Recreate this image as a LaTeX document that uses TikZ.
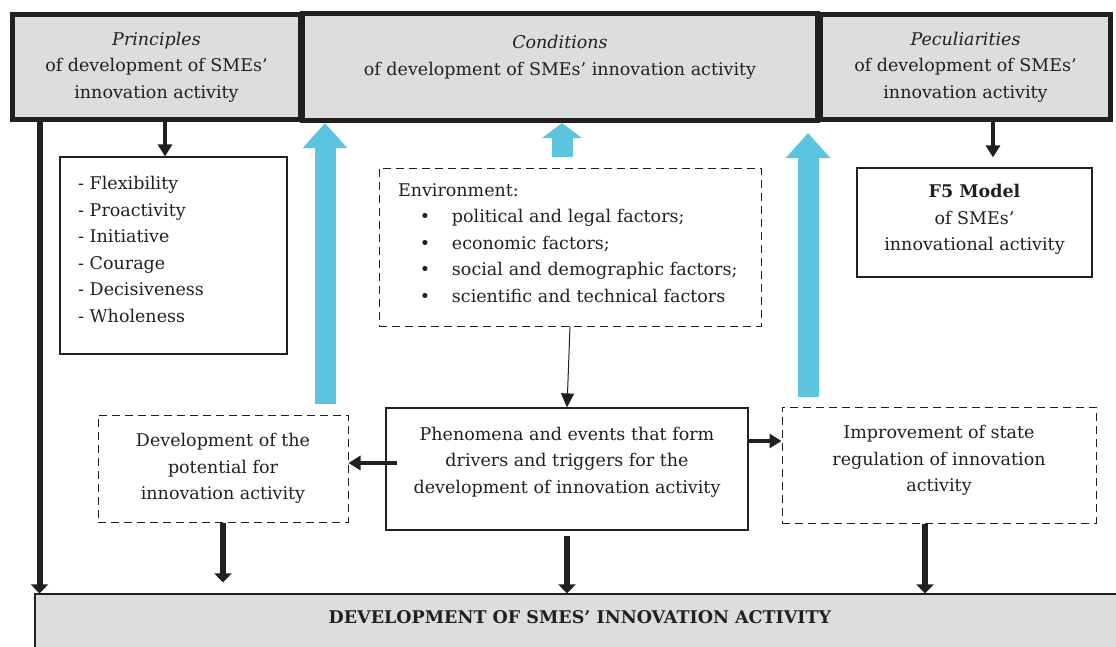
\documentclass[tikz,border=0pt]{standalone}
\usepackage{fontspec}
\setmainfont{DejaVu Serif}
\usetikzlibrary{arrows.meta}
\definecolor{topgray}{HTML}{DCDDDF}
\definecolor{skyblue}{HTML}{5BC4DF}
\definecolor{ink}{HTML}{231F20}
\newcommand{\padbelow}[1]{\rule[-#1]{0pt}{#1}}
\begin{document}
\begin{tikzpicture}[x=1pt,y=-1pt,font=\fontsize{17.5}{26.5}\selectfont,color=ink]
\tikzstyle{topbox}=[draw,fill=topgray,line width=5pt,align=center,inner sep=0pt]
\tikzstyle{plainbox}=[draw,line width=1.2pt,inner sep=0pt]
\tikzstyle{dashbox}=[draw,line width=1pt,dash pattern=on 8pt off 5pt,inner sep=0pt]
\tikzstyle{bigarrow}=[line width=6pt,-{Triangle[width=17pt,length=9pt]}]
\tikzstyle{midarrow}=[line width=3.5pt,-{Triangle[width=14pt,length=12pt]}]
\tikzstyle{thinarrow}=[line width=1pt,-{Triangle[width=13pt,length=14pt]}]
\tikzstyle{bluearrow}=[skyblue,line width=21pt,-{Triangle[width=43pt,length=25pt]}]

\useasboundingbox (0,0) rectangle (1116,646);

\node[topbox,minimum width=288,minimum height=105] at (156.5,67) (princ)
  {\textit{Principles}\\of development of SMEs'\\innovation activity};
\node[topbox,minimum width=290,minimum height=105] at (965.5,67) (pecul)
  {\textit{Peculiarities}\\of development of SMEs'\\innovation activity};
\node[topbox,minimum width=515,minimum height=107] at (560,67) (cond)
  {\textit{Conditions}\\of development of SMEs' innovation activity\padbelow{23pt}};

\node[plainbox,minimum width=227,minimum height=197,text width=191,align=left] at (173.5,255.5) (list)
  {- Flexibility\\- Proactivity\\- Initiative\\- Courage\\- Decisiveness\\- Wholeness\padbelow{12pt}};
\node[dashbox,minimum width=382,minimum height=158,text width=344,align=left] at (570,247) (env)
  {Environment:\\
  \makebox[54pt][c]{\textbullet}political and legal factors;\\
  \makebox[54pt][c]{\textbullet}economic factors;\\
  \makebox[54pt][c]{\textbullet}social and demographic factors;\\
  \makebox[54pt][c]{\textbullet}scientific and technical factors\padbelow{8pt}};
\node[plainbox,minimum width=235,minimum height=109,align=center] at (974.5,222.5) (model)
  {\textbf{F5 Model}\\of SMEs'\\innovational activity\padbelow{10pt}};

\node[dashbox,minimum width=250,minimum height=107,align=center] at (223,468.5) (potential)
  {Development of the\\potential for\\innovation activity};
\node[plainbox,minimum width=362,minimum height=122,align=center] at (567,469) (phen)
  {Phenomena and events that form\\drivers and triggers for the\\development of innovation activity\padbelow{18pt}};
\node[dashbox,minimum width=314,minimum height=116,align=center] at (939,465) (regul)
  {Improvement of state\\regulation of innovation\\activity\padbelow{13pt}};

\node[plainbox,fill=topgray,minimum width=1090,minimum height=58] at (580,623) (result)
  {\textbf{DEVELOPMENT OF SMES' INNOVATION ACTIVITY}\padbelow{12pt}};

\coordinate (lb) at (325,404);
\coordinate (mb) at (562,157);
\coordinate (rb) at (808,397);

\draw[bluearrow] (lb) -- (lb |- cond.south);
\draw[bluearrow,-{Triangle[width=39pt,length=15pt]}] (mb) -- (mb |- cond.south);
\draw[bluearrow,shorten >=10pt] (rb) -- (rb |- cond.south);

\draw[bigarrow] ([xshift=29.5pt]princ.south west) -- ([xshift=29.5pt]princ.south west |- result.north);
\draw[midarrow] ([xshift=-8.5pt]list.north |- princ.south) -- ([xshift=-8.5pt]list.north);
\draw[midarrow,shorten >=10pt] ([xshift=18.5pt]model.north |- pecul.south) -- ([xshift=18.5pt]model.north);
\draw[thinarrow] (env.south) -- (phen.north);
\draw[midarrow] ([xshift=12pt,yshift=6pt]phen.west) -- ([yshift=6pt]phen.west -| potential.east);
\draw[midarrow] ([yshift=28pt]phen.east) -- ([yshift=28pt]phen.east -| regul.west);
\draw[bigarrow,shorten >=11pt] (potential.south) -- (potential.south |- result.north);
\draw[bigarrow,shorten <=5pt] (phen.south) -- (phen.south |- result.north);
\draw[bigarrow] ([xshift=-14pt]regul.south) -- ([xshift=-14pt]regul.south |- result.north);
\end{tikzpicture}
\end{document}
